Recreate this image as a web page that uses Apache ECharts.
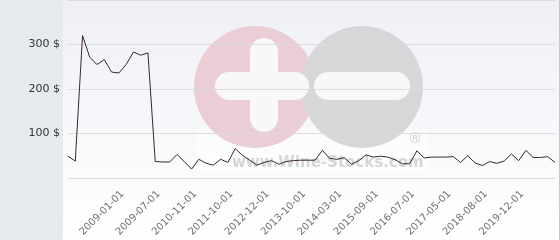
<!DOCTYPE html>
<html><head><meta charset="utf-8">
<script src="https://cdn.jsdelivr.net/npm/echarts@6/dist/echarts.min.js"></script>
<style>html,body{margin:0;padding:0;background:#fff}#c{width:560px;height:240px}</style>
</head><body><div id="c"></div>
<script>
const prices = [49, 38, 320, 271, 255, 266, 238, 236, 255, 283, 276, 281,
  37, 36, 36, 53, 37, 20, 42, 33, 29, 42, 35, 66, 51, 40, 29, 35, 39, 31,
  37, 39, 40, 40, 40, 62, 44, 42, 46, 31, 39, 52, 47, 49, 47, 41, 32, 32,
  61, 45, 47, 47, 47, 48, 35, 50, 34, 28, 37, 33, 38, 54, 39, 62, 46, 46, 48, 35];
// Visible x tick labels (every 5th observation, starting at observation 7)
const tickLabels = ['2009-01-01', '2009-07-01', '2010-11-01', '2011-10-01', '2012-12-01',
  '2013-10-01', '2014-03-01', '2015-09-01', '2016-07-01', '2017-05-01', '2018-08-01', '2019-12-01'];
const firstLabelIndex = 7;
const labelStep = 5;
const yMin = 0, yMax = 400, yStep = 100;

const categories = prices.map((_, i) => {
  const k = (i - firstLabelIndex) / labelStep;
  return (Number.isInteger(k) && k >= 0 && k < tickLabels.length) ? tickLabels[k] : '';
});

const chart = echarts.init(document.getElementById('c'), null, {renderer: 'canvas'});
const Z = -5;
chart.setOption({
  animation: false,
  backgroundColor: '#ffffff',
  graphic: [
    {type: 'rect', z: Z, shape: {x: 0, y: 0, width: 63, height: 240}, style: {fill: '#e6eaed'}},
    {type: 'rect', z: Z, shape: {x: 63, y: 0, width: 496, height: 240},
      style: {fill: new echarts.graphic.LinearGradient(0, 0, 0, 1, [
        {offset: 0, color: '#eef0f5'}, {offset: 1, color: '#ffffff'}])}},
    {type: 'rect', z: Z, shape: {x: 559, y: 0, width: 1, height: 240}, style: {fill: '#c8c8cc'}},
    {type: 'rect', z: Z, shape: {x: 197, y: 130, width: 230, height: 42}, style: {fill: 'rgba(255,255,255,0.55)'}},
    {type: 'circle', z: Z, shape: {cx: 255, cy: 87, r: 61}, style: {fill: '#ebcdd5'}},
    {type: 'circle', z: Z, shape: {cx: 362, cy: 87, r: 61}, style: {fill: '#d7d7d9'}},
    {type: 'rect', z: Z, shape: {x: 215, y: 72, width: 94, height: 28, r: 14}, style: {fill: '#f8f8fa'}},
    {type: 'rect', z: Z, shape: {x: 250, y: 38, width: 28, height: 94, r: 14}, style: {fill: '#f8f8fa'}},
    {type: 'rect', z: Z, shape: {x: 314, y: 72, width: 96, height: 28, r: 14}, style: {fill: '#f8f8fa'}},
    {type: 'text', z: Z, x: 232, y: 156, style: {text: 'www.Wine-Stocks.com', fill: '#d6d6d9',
      font: 'bold 15px "DejaVu Sans"'}},
    {type: 'text', z: Z, x: 408, y: 132, style: {text: '®', fill: '#cfcfd2', font: '14px "DejaVu Sans"'}}
  ],
  grid: {left: 68, right: 5, top: -1, bottom: 62, containLabel: false},
  xAxis: {
    type: 'category', data: categories, boundaryGap: false,
    axisLine: {show: false}, axisTick: {show: false},
    axisLabel: {interval: 0, rotate: 45, margin: 11, fontSize: 10, color: '#707070',
      verticalAlign: 'top', fontFamily: 'DejaVu Sans'},
    splitLine: {show: false}
  },
  yAxis: {
    type: 'value', min: yMin, max: yMax, interval: yStep,
    axisLine: {show: false}, axisTick: {show: false},
    axisLabel: {margin: 8, fontSize: 11, color: '#333', fontFamily: 'DejaVu Sans',
      formatter: v => (v === yMin || v === yMax) ? '' : v + ' $'},
    splitLine: {lineStyle: {color: '#dcdcdf', width: 1}}
  },
  series: [{
    type: 'line', data: prices, showSymbol: false, symbol: 'none',
    lineStyle: {color: '#3b2630', width: 1}, clip: false, z: 3
  }]
});
</script></body></html>
